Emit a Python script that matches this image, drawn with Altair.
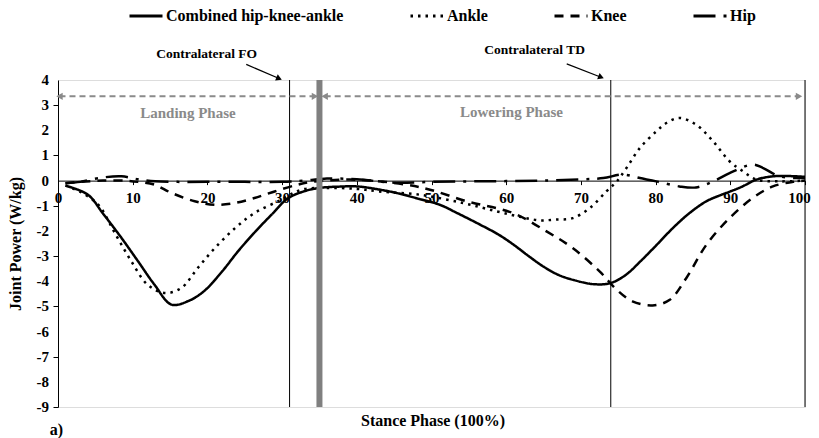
import altair as alt
import pandas as pd

FONT = "Liberation Serif"
W, H = 747, 327

series_names = ["Combined hip-knee-ankle", "Ankle", "Knee", "Hip"]

combined_x = [1, 4, 6, 8.5, 10.7, 12.9, 15.2, 17.5, 19.6, 22, 24.1, 26.5, 28.6, 30.8, 33, 35, 37.5, 40,
              42.5, 45.3, 48, 51.1, 53.5, 56.5, 59, 61, 63, 65, 67, 69, 71.8, 74, 76, 78, 80, 82.3,
              84.5, 86.8, 88.5, 90, 91.5, 93.5, 95.7, 98, 100]
combined_y = [-0.2, -0.56, -1.3, -2.28, -3.2, -4.13, -4.93, -4.78, -4.38, -3.6, -2.81, -2.0, -1.35, -0.7,
              -0.42, -0.29, -0.24, -0.23, -0.33, -0.49, -0.7, -0.96, -1.3, -1.75, -2.15, -2.55, -3.0,
              -3.42, -3.75, -3.95, -4.12, -4.07, -3.75, -3.2, -2.6, -1.89, -1.3, -0.82, -0.6, -0.43,
              -0.25, 0.04, 0.17, 0.18, 0.15]

ankle_x = [1, 3, 5.4, 7.6, 9.8, 12, 14.3, 16.5, 18.7, 21, 23.7, 26.3, 29.9, 32.6, 36.4, 40, 43, 48.4,
           54.2, 58.7, 62, 64.5, 66.5, 68.9, 71.2, 73.4, 74.8, 76.1, 77.9, 80.1, 81.5, 83.2, 85.4,
           87.7, 89.9, 91.7, 93.5, 96.6, 100]
ankle_y = [-0.2, -0.45, -0.96, -2.08, -3.2, -4.14, -4.47, -4.27, -3.48, -2.68, -1.89, -1.29, -0.76,
           -0.36, -0.29, -0.33, -0.43, -0.56, -0.89, -1.22, -1.45, -1.58, -1.55, -1.49, -1.09, -0.43,
           -0.03, 0.5, 1.3, 1.96, 2.3, 2.49, 2.23, 1.56, 0.77, 0.37, 0.04, -0.03, 0.0]

knee_x = [1, 3, 6, 9, 10.7, 12.9, 15.2, 18.3, 21, 23.7, 26.3, 29, 32.1, 34, 38.6, 42, 46.6, 49.8, 54.7,
          60.9, 65.4, 68.9, 72.5, 74.8, 76.9, 79.6, 81.9, 84.1, 86.8, 89.9, 93, 95.7, 98.4, 100]
knee_y = [-0.1, -0.05, 0.0, 0.0, -0.05, -0.16, -0.49, -0.82, -0.96, -0.89, -0.69, -0.43, -0.16, -0.05,
          0.04, 0.0, -0.16, -0.36, -0.82, -1.29, -2.02, -2.68, -3.61, -4.34, -4.8, -4.96, -4.74,
          -3.88, -2.55, -1.49, -0.69, -0.23, -0.05, 0.0]

hip_x = [1, 3, 5.4, 8.5, 10.7, 13, 16, 20, 25, 30, 33, 36, 40, 45, 50, 55, 60, 65, 70, 73, 75.6, 77.9,
         80.1, 83.2, 85.4, 87.7, 89.9, 93, 94.4, 96.6, 100]
hip_y = [-0.1, -0.05, 0.1, 0.17, 0.05, -0.03, -0.05, -0.05, -0.05, -0.05, 0.0, 0.08, 0.05, -0.08,
         -0.05, -0.03, -0.02, 0.0, 0.05, 0.1, 0.24, 0.1, -0.03, -0.23, -0.27, -0.03, 0.3, 0.64, 0.5,
         0.17, 0.1]

x_ticks = [0, 10, 20, 30, 40, 50, 60, 70, 80, 90, 100]
y_ticks = [4, 3, 2, 1, 0, -1, -2, -3, -4, -5, -6, -7, -8, -9]
y_tick_labels = ["4", "3", "2", "1", "0", "-1", "-2", "-3", "-4", "-5", "-6", "-7", "-8", "-9"]

# event lines (thin black) and the thick grey separator
event_x = [31, 74, 100]
separator_x = [35]
plot_top, plot_bottom = 4, -9

# phase arrows
phase_names = ["Landing  Phase", "Lowering  Phase"]
phase_start = [0.2, 35.7]
phase_end = [34.4, 99.2]
phase_y = [3.35, 3.35]
phase_label_x = [17.4, 60.7]
phase_label_y = [2.7, 2.73]

# contralateral annotations
event_names = ["Contralateral  FO", "Contralateral  TD"]
event_label_x = [19.9, 63.8]
event_label_y = [5.04, 5.21]
arrow_x1 = [25.2, 68.1]
arrow_y1 = [4.62, 4.64]
arrow_x2 = [29.6, 72.7]
arrow_y2 = [4.06, 4.11]
arrow_angle = [23, 21]

rows = []
for name, xs, ys in [(series_names[0], combined_x, combined_y), (series_names[1], ankle_x, ankle_y),
                     (series_names[2], knee_x, knee_y), (series_names[3], hip_x, hip_y)]:
    for i, (a, b) in enumerate(zip(xs, ys)):
        rows.append({"series": name, "pct": a, "power": b, "idx": i})
df = pd.DataFrame(rows)

xscale = alt.Scale(domain=[0, 100], nice=False, zero=False)
yscale = alt.Scale(domain=[-9, 4], nice=False, zero=False)

dash_scale = alt.Scale(domain=series_names, range=[[1, 0], [2.5, 5], [9, 7], [22, 8, 3, 8]])

lines = alt.Chart(df).mark_line(interpolate="catmull-rom", strokeWidth=2.5, color="black").encode(
    x=alt.X("pct:Q", scale=xscale, title=None, axis=alt.Axis(
        values=x_ticks, offset=-(9 / 13) * H, tickSize=4, tickColor="black", domainColor="black",
        labelPadding=6, labelFont=FONT, labelFontSize=15, labelFontWeight="bold", labelColor="black",
        grid=False, labelFlush=False, labelOverlap=False,
        labelOffset={"condition": {"test": "datum.value == 100", "value": -6}, "value": 0})),
    y=alt.Y("power:Q", scale=yscale, title="Joint Power (W/kg)", axis=alt.Axis(
        values=y_ticks, tickSize=5, tickColor="black", domainColor="black", labels=False,
        grid=False, titleFont=FONT, titleFontSize=16, titleFontWeight="bold", titleColor="black",
        titlePadding=29)),
    strokeDash=alt.StrokeDash("series:N", scale=dash_scale, legend=alt.Legend(
        orient="none", legendX=70, legendY=-82, direction="horizontal", title=None,
        symbolType="stroke", symbolSize=1089, symbolStrokeWidth=3, symbolStrokeColor="black",
        labelFont=FONT, labelFontSize=16, labelFontWeight="bold", labelColor="black",
        labelLimit=400, columnPadding=60, labelOffset=2, padding=0)),
    order="idx:Q",
)

ylab_df = pd.DataFrame({"v": y_ticks, "lab": y_tick_labels, "x0": [0] * len(y_ticks)})
ylabels = alt.Chart(ylab_df).mark_text(font=FONT, fontSize=15, fontWeight="bold", color="black",
                                       align="right", baseline="middle", dx=-9).encode(
    x=alt.X("x0:Q", scale=xscale), y=alt.Y("v:Q", scale=yscale), text="lab:N",
)

ev_df = pd.DataFrame({"pos": event_x, "top": [plot_top] * len(event_x), "bot": [plot_bottom] * len(event_x)})
events = alt.Chart(ev_df).mark_rule(color="black", strokeWidth=1).encode(
    x=alt.X("pos:Q", scale=xscale), y=alt.Y("top:Q", scale=yscale), y2="bot:Q",
)

sep_df = pd.DataFrame({"pos": separator_x, "top": [plot_top], "bot": [plot_bottom]})
separator = alt.Chart(sep_df).mark_rule(color="#808080", strokeWidth=6).encode(
    x=alt.X("pos:Q", scale=xscale), y=alt.Y("top:Q", scale=yscale), y2="bot:Q",
)

ph_df = pd.DataFrame({"name": phase_names, "x1": phase_start, "x2": phase_end, "y": phase_y,
                      "lx": phase_label_x, "ly": phase_label_y})
phase_lines = alt.Chart(ph_df).mark_rule(color="#8a8a8a", strokeWidth=2, strokeDash=[6, 4]).encode(
    x=alt.X("x1:Q", scale=xscale), x2="x2:Q", y=alt.Y("y:Q", scale=yscale),
)
phase_left = alt.Chart(ph_df).mark_point(shape="triangle-left", filled=True, size=55, color="#8a8a8a",
                                         opacity=1).encode(
    x=alt.X("x1:Q", scale=xscale), y=alt.Y("y:Q", scale=yscale),
)
phase_right = alt.Chart(ph_df).mark_point(shape="triangle-right", filled=True, size=55, color="#8a8a8a",
                                          opacity=1).encode(
    x=alt.X("x2:Q", scale=xscale), y=alt.Y("y:Q", scale=yscale),
)
phase_text = alt.Chart(ph_df).mark_text(font=FONT, fontSize=15, fontWeight="bold", color="#8a8a8a").encode(
    x=alt.X("lx:Q", scale=xscale), y=alt.Y("ly:Q", scale=yscale), text="name:N",
)

ev_ann = pd.DataFrame({"name": event_names, "lx": event_label_x, "ly": event_label_y,
                       "x1": arrow_x1, "y1": arrow_y1, "x2": arrow_x2, "y2": arrow_y2,
                       "angle": arrow_angle})
ev_text = alt.Chart(ev_ann).mark_text(font=FONT, fontSize=13.5, fontWeight="bold", color="black").encode(
    x=alt.X("lx:Q", scale=xscale), y=alt.Y("ly:Q", scale=yscale), text="name:N",
)
ev_arrow = alt.Chart(ev_ann).mark_rule(color="black", strokeWidth=1.2).encode(
    x=alt.X("x1:Q", scale=xscale), x2="x2:Q", y=alt.Y("y1:Q", scale=yscale), y2="y2:Q",
)
ev_head = alt.Chart(ev_ann).mark_point(shape="triangle-right", filled=True, size=45, color="black",
                                       opacity=1).encode(
    x=alt.X("x2:Q", scale=xscale), y=alt.Y("y2:Q", scale=yscale),
    angle=alt.Angle("angle:Q", scale=None),
)

misc_df = pd.DataFrame({"label": ["Stance Phase (100%)", "a)"], "x": [50.2, -0.2], "y": [-9.54, -9.9]})
misc_text = alt.Chart(misc_df).mark_text(font=FONT, fontSize=16, fontWeight="bold", color="black").encode(
    x=alt.X("x:Q", scale=xscale), y=alt.Y("y:Q", scale=yscale), text="label:N",
)

chart = alt.layer(
    lines, ylabels, events, phase_lines, phase_left, phase_right, phase_text,
    ev_text, ev_arrow, ev_head, separator, misc_text,
).properties(
    width=W, height=H,
    padding={"left": 50, "top": 72, "right": 6, "bottom": 31},
    autosize=alt.AutoSizeParams(type="none"),
).configure_view(stroke="transparent").configure(background="white")

chart.save("out.html", embed_options={"renderer": "svg", "actions": False})
